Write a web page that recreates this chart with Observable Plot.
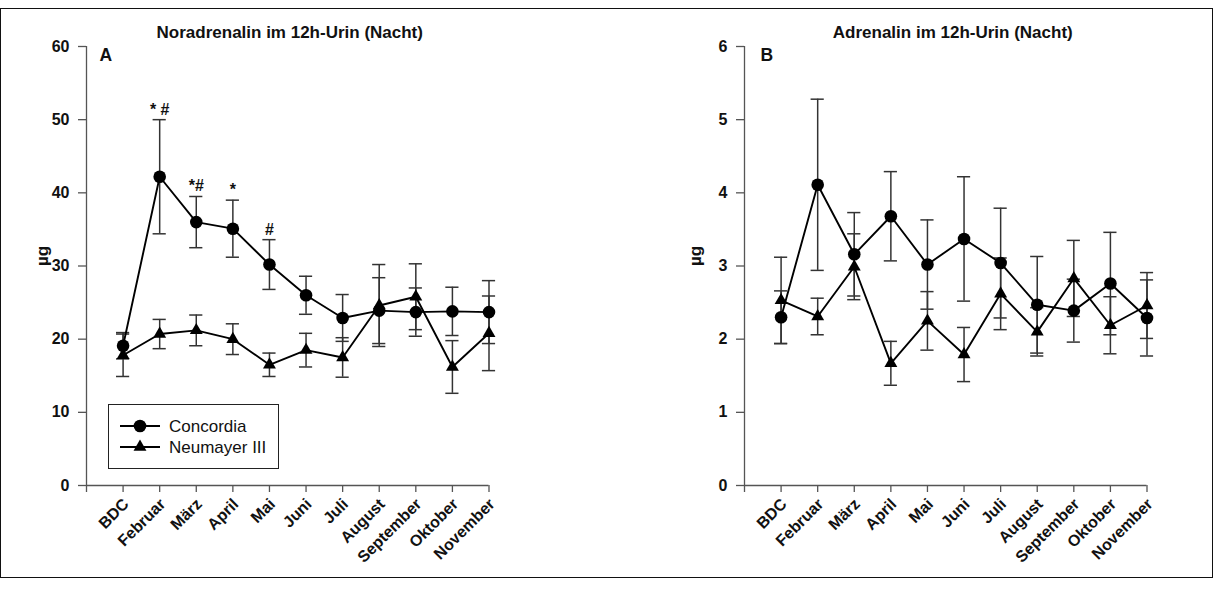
<!DOCTYPE html>
<html>
<head>
<meta charset="utf-8">
<script src="https://cdn.jsdelivr.net/npm/d3@7"></script>
<script src="https://cdn.jsdelivr.net/npm/@observablehq/plot@0.6"></script>
<style>
  body { margin: 0; background: #fff; font-family: Arial, "Liberation Sans", sans-serif; }
  #fig { position: relative; width: 1215px; height: 592px; overflow: hidden; background: #fff; }
  #frame { position: absolute; left: 0; top: 8px; width: 1211px; height: 568px; border: 1.5px solid #111; pointer-events: none; }
  .panel { position: absolute; top: 0; width: 600px; height: 592px; }
  .panel svg { overflow: visible; max-width: none !important; }
  .legend { position: absolute; box-sizing: border-box; border: 1.2px solid #222; background: #fff; }
  .legend .row { position: absolute; left: 0; height: 21px; }
  .legend .row svg { position: absolute; left: 10px; top: 2px; }
  .legend .row span { position: absolute; left: 60px; top: 0; line-height: 21px; font-size: 17px; color: #111; white-space: nowrap; }
  g[aria-label="y-axis tick"], g[aria-label="x-axis tick"] { stroke: #555; stroke-width: 1.3; }
</style>
</head>
<body>
<div id="fig"><div id="frame"></div></div>
<script>
// Months of the overwintering campaign (BDC = baseline data collection)
const categories = ["BDC", "Februar", "März", "April", "Mai", "Juni", "Juli", "August", "September", "Oktober", "November"];
const seriesNames = ["Concordia", "Neumayer III"];

// Panel A: noradrenaline in 12 h night urine (µg), mean and error
const noraConcordia    = [19.1, 42.2, 36.0, 35.1, 30.2, 26.0, 22.9, 23.9, 23.7, 23.8, 23.7];
const noraConcordiaErr = [1.8, 7.8, 3.5, 3.9, 3.4, 2.6, 3.2, 4.5, 3.3, 3.3, 4.3];
const noraNeumayer     = [17.8, 20.7, 21.2, 20.0, 16.5, 18.5, 17.5, 24.6, 25.8, 16.2, 20.8];
const noraNeumayerErr  = [2.9, 2.0, 2.1, 2.1, 1.6, 2.3, 2.7, 5.6, 4.5, 3.6, 5.1];

// Panel B: adrenaline in 12 h night urine (µg), mean and error
const adreConcordia    = [2.30, 4.11, 3.16, 3.68, 3.02, 3.37, 3.04, 2.47, 2.39, 2.76, 2.29];
const adreConcordiaErr = [0.36, 1.17, 0.57, 0.61, 0.61, 0.85, 0.75, 0.66, 0.43, 0.70, 0.52];
const adreNeumayer     = [2.53, 2.31, 2.99, 1.67, 2.25, 1.79, 2.62, 2.10, 2.83, 2.19, 2.46];
const adreNeumayerErr  = [0.59, 0.25, 0.45, 0.30, 0.40, 0.37, 0.49, 0.33, 0.52, 0.39, 0.45];

// Significance marks above the Concordia error bars in panel A
const noraSigIndex = [1, 2, 3, 4];
const noraSigText  = ["* #", "*#", "*", "#"];

// Axis ticks
const noraTicks = [0, 10, 20, 30, 40, 50, 60];
const adreTicks = [0, 1, 2, 3, 4, 5, 6];

const FONT = 'Arial, "Liberation Sans", sans-serif';

function rows(means, errs) {
  return means.map((m, i) => ({x: i + 1, mean: m, lo: m - errs[i], hi: m + errs[i]}));
}

function panel({title, letter, yTicks, conc, concErr, neu, neuErr, sigIndex = [], sigText = [], titleDx, letterDx, unitDx}) {
  const a = rows(conc, concErr);
  const b = rows(neu, neuErr);
  const cap = 0.18;
  const errMarks = (d) => [
    Plot.ruleX(d, {x: "x", y1: "lo", y2: "hi", stroke: "#333", strokeWidth: 1.5}),
    Plot.ruleY(d, {y: "hi", x1: r => r.x - cap, x2: r => r.x + cap, stroke: "#333", strokeWidth: 1.5}),
    Plot.ruleY(d, {y: "lo", x1: r => r.x - cap, x2: r => r.x + cap, stroke: "#333", strokeWidth: 1.5})
  ];
  const yMax = yTicks[yTicks.length - 1];
  const sig = sigIndex.map((k, j) => ({x: a[k].x, y: a[k].hi, t: sigText[j]}));
  return Plot.plot({
    width: 600,
    height: 592,
    marginTop: 46,
    marginBottom: 107,
    marginLeft: 86,
    marginRight: 111.5,
    style: {fontFamily: FONT, fontSize: "16px", fontWeight: "bold", background: "transparent", color: "#111"},
    x: {type: "linear", domain: [0, categories.length]},
    y: {domain: [0, yMax]},
    marks: [
      // axis lines
      Plot.ruleX([0], {y1: 0, y2: yMax, stroke: "#555", strokeWidth: 1.3}),
      Plot.ruleY([0], {x1: 0, x2: categories.length, stroke: "#555", strokeWidth: 1.3}),
      Plot.axisY({ticks: yTicks, tickSize: 8, tickPadding: 9, label: null, tickFormat: d3.format("d"), fontSize: 16}),
      Plot.axisX({ticks: d3.range(0, categories.length + 1), tickSize: 7, tickFormat: () => "", label: null}),
      Plot.text(categories, {x: (d, i) => i + 1, y: 0, text: d => d, rotate: -45, textAnchor: "end", dx: 3, dy: 16, fontSize: 16}),
      // error bars, connecting lines, markers
      ...errMarks(b),
      ...errMarks(a),
      Plot.line(a, {x: "x", y: "mean", stroke: "#000", strokeWidth: 1.9}),
      Plot.line(b, {x: "x", y: "mean", stroke: "#000", strokeWidth: 1.9}),
      Plot.dot(b, {x: "x", y: "mean", symbol: "triangle", r: 4.8, fill: "#000", stroke: "none"}),
      Plot.dot(a, {x: "x", y: "mean", symbol: "circle", r: 6.3, fill: "#000", stroke: "none"}),
      Plot.text(sig, {x: "x", y: "y", text: "t", lineAnchor: "bottom", dy: -5, fontSize: 16}),
      // titles and labels
      Plot.text([title], {frameAnchor: "top", lineAnchor: "bottom", dy: -9, dx: titleDx, fontSize: 17}),
      Plot.text([letter], {frameAnchor: "top-left", lineAnchor: "bottom", textAnchor: "start", dx: letterDx, dy: 14, fontSize: 17.5}),
      Plot.text(["µg"], {frameAnchor: "left", rotate: -90, dx: unitDx, fontSize: 17})
    ]
  });
}

const fig = document.getElementById("fig");

const left = document.createElement("div");
left.className = "panel";
left.style.left = "0px";
left.appendChild(panel({
  title: "Noradrenalin im 12h-Urin (Nacht)", letter: "A", yTicks: noraTicks,
  conc: noraConcordia, concErr: noraConcordiaErr, neu: noraNeumayer, neuErr: noraNeumayerErr,
  sigIndex: noraSigIndex, sigText: noraSigText, titleDx: 2, letterDx: 13, unitDx: -44
}));
fig.appendChild(left);

const right = document.createElement("div");
right.className = "panel";
right.style.left = "658px";
right.appendChild(panel({
  title: "Adrenalin im 12h-Urin (Nacht)", letter: "B", yTicks: adreTicks,
  conc: adreConcordia, concErr: adreConcordiaErr, neu: adreNeumayer, neuErr: adreNeumayerErr,
  titleDx: 7, letterDx: 16, unitDx: -49
}));
fig.appendChild(right);

// Legend for panel A: line with marker, then series name
const legend = d3.select(fig).append("div").attr("class", "legend")
  .style("left", "108px").style("top", "404px").style("width", "171px").style("height", "65px");
const symbols = [d3.symbol(d3.symbolCircle, Math.PI * 6.3 * 6.3), d3.symbol(d3.symbolTriangle, Math.PI * 4.8 * 4.8)];
seriesNames.forEach((name, i) => {
  const row = legend.append("div").attr("class", "row").style("top", (11 + i * 21) + "px");
  const sw = row.append("svg").attr("width", 44).attr("height", 16);
  sw.append("line").attr("x1", 1).attr("x2", 41).attr("y1", 8).attr("y2", 8).attr("stroke", "#000").attr("stroke-width", 1.9);
  sw.append("path").attr("d", symbols[i]()).attr("transform", "translate(21,8)").attr("fill", "#000");
  row.append("span").text(name);
});
</script>
</body>
</html>
